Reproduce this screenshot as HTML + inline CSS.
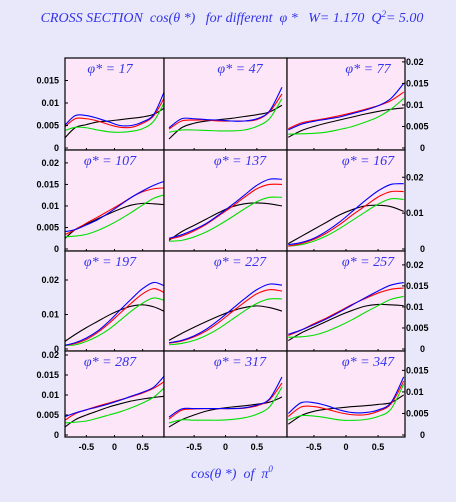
<!DOCTYPE html>
<html><head><meta charset="utf-8"><style>
body{margin:0;background:#e8e8fa;}
svg{display:block;font-family:"Liberation Sans",sans-serif;}
text{white-space:pre;}
</style></head><body>
<svg id="c" width="456" height="502">
<rect width="456" height="502" fill="#e8e8fa"/>
<text x="232" y="22" text-anchor="middle" fill="#3333ee" font-family="Liberation Serif,serif" font-style="italic" font-size="14" xml:space="preserve">CROSS SECTION  cos(θ *)   for different  φ *   W= 1.170  Q<tspan dy="-5" font-size="9">2</tspan><tspan dy="5">= 5.00</tspan></text>
<text x="232" y="478" text-anchor="middle" fill="#3333ee" font-family="Liberation Serif,serif" font-style="italic" font-size="14" xml:space="preserve">cos(θ *)  of  π<tspan dy="-6" font-size="9">0</tspan></text>
<g id="g"></g>
</svg>
<script>
const phis=[17,47,77,107,137,167,197,227,257,287,317,347];
const xs=[-0.9,-0.7,-0.5,-0.3,-0.1,0.1,0.3,0.5,0.7,0.9];
const black=[
[.002,.0045,.0052,.0058,.006,.0063,.0066,.0069,.0075,.009],
[.002,.0045,.0055,.006,.0063,.0066,.007,.0074,.008,.0095],
[.0025,.004,.005,.0058,.0065,.0072,.0079,.0085,.009,.0093],
[.0022,.0045,.0058,.007,.0082,.0093,.0102,.0106,.0105,.0103],
[.002,.004,.0055,.007,.0085,.0098,.0105,.0107,.0105,.01],
[.0015,.0035,.0055,.0075,.0095,.011,.012,.0122,.0118,.0105],
[.002,.0042,.0062,.008,.0098,.0113,.0124,.0128,.0122,.0108],
[.0025,.0045,.0063,.008,.0096,.011,.012,.0125,.012,.011],
[.002,.0038,.0052,.0066,.008,.0092,.0102,.0106,.0105,.0103],
[.0018,.0038,.005,.006,.007,.0078,.0085,.009,.0094,.0097],
[.002,.0038,.005,.006,.0066,.007,.0073,.0077,.0082,.0095],
[.0025,.0045,.0055,.006,.0063,.0066,.0068,.0071,.0075,.0093]];
const blue=[
[.0048,.0072,.0072,.0066,.0058,.005,.005,.0058,.0075,.013],
[.0045,.0065,.0065,.0063,.0062,.006,.006,.0065,.0082,.0135],
[.0042,.0055,.0062,.0067,.0072,.008,.0088,.0098,.0115,.015],
[.004,.0045,.0056,.0068,.0084,.0102,.012,.0135,.0148,.0158],
[.0025,.0033,.0045,.006,.008,.0102,.0125,.0148,.0162,.0162],
[.0012,.0018,.003,.005,.0075,.0105,.0135,.0162,.018,.0182],
[.001,.0018,.0032,.0052,.008,.0113,.0145,.0175,.0193,.0182],
[.0018,.0025,.0038,.0058,.0085,.0115,.0145,.0172,.0188,.0185],
[.0035,.0045,.0058,.0072,.0088,.0105,.0122,.0138,.0152,.0158],
[.0045,.0055,.0063,.007,.0078,.0087,.0097,.0107,.012,.015],
[.0045,.0065,.0066,.0066,.0066,.0066,.0068,.0075,.009,.0145],
[.005,.0075,.0075,.0068,.0058,.0052,.0052,.0058,.0075,.0135]];
const red=[
[.0045,.0065,.0065,.006,.0052,.0046,.0046,.0055,.0072,.0115],
[.0042,.006,.0062,.0062,.006,.006,.006,.0063,.008,.012],
[.0045,.0058,.0064,.0069,.0075,.0082,.009,.0098,.011,.013],
[.0032,.0045,.006,.0074,.0089,.0104,.012,.0133,.014,.0142],
[.0023,.003,.0042,.0058,.0078,.0098,.012,.014,.015,.015],
[.0008,.0015,.0027,.0045,.0068,.0095,.012,.0145,.016,.016],
[.001,.0016,.0028,.0048,.0074,.0104,.0133,.016,.0175,.0162],
[.0017,.0023,.0035,.0053,.0078,.0107,.0135,.016,.0172,.0168],
[.0032,.0045,.006,.0074,.009,.0106,.012,.0133,.0142,.0145],
[.0035,.0053,.0063,.0072,.008,.0088,.0096,.0105,.0117,.0135],
[.004,.0062,.0065,.0066,.0066,.0066,.0067,.0073,.0088,.013],
[.0043,.0065,.0066,.006,.0052,.0047,.0047,.0055,.0072,.0125]];
const green=[
[.0038,.0046,.0045,.004,.0036,.0035,.0037,.0043,.006,.0105],
[.0035,.004,.004,.0039,.0038,.0038,.004,.0048,.0065,.011],
[.0032,.0033,.0034,.0037,.0043,.005,.006,.0072,.009,.0115],
[.0028,.003,.0034,.0043,.0055,.0069,.0085,.0102,.0118,.0126],
[.0018,.002,.0028,.004,.0056,.0074,.0093,.011,.012,.012],
[.0008,.0012,.0022,.0037,.0057,.008,.0103,.0125,.014,.0138],
[.001,.0012,.0022,.0037,.0057,.0083,.011,.0133,.0148,.014],
[.0012,.0016,.0025,.004,.006,.0085,.011,.0132,.0145,.0145],
[.0028,.0029,.0033,.0042,.0055,.007,.0087,.0103,.0118,.0125],
[.003,.0032,.0035,.0042,.005,.0058,.0068,.008,.0095,.012],
[.003,.0038,.0037,.0037,.0037,.0039,.0043,.0052,.007,.012],
[.0035,.0045,.0044,.004,.0035,.0034,.0036,.0043,.006,.0118]];
const leftTicks=[[0,.005,.01,.015],[0,.005,.01,.015,.02],[0,.01,.02],[0,.005,.01,.015,.02]];
const rightTicks=[[0,.005,.01,.015,.02],[0,.01,.02],[0,.005,.01,.015,.02],[0,.005,.01,.015]];
const xTicks=[-0.5,0,0.5];
const ymaxL=[.020,.023,.0284,.021], ymaxR=[.0209,.0276,.0233,.0195];
const colX=[65,164,287,405], rowY=[58,150,251,351,437];
const xDom=[0.88,0.98,0.92], labCx=[110,240,368];
const NS="http://www.w3.org/2000/svg", G=document.getElementById('g');
function mk(t,a,p){const e=document.createElementNS(NS,t);for(const k in a)e.setAttribute(k,a[k]);(p||G).appendChild(e);return e;}
function path(pts){let d='M'+pts[0][0]+','+pts[0][1];for(let i=0;i<pts.length-1;i++){const p0=pts[Math.max(0,i-1)],p1=pts[i],p2=pts[i+1],p3=pts[Math.min(pts.length-1,i+2)];d+=' C'+(p1[0]+(p2[0]-p0[0])/6)+','+(p1[1]+(p2[1]-p0[1])/6)+' '+(p2[0]-(p3[0]-p1[0])/6)+','+(p2[1]-(p3[1]-p1[1])/6)+' '+p2[0]+','+p2[1];}return d;}
for(let i=0;i<12;i++){
 const r=Math.floor(i/3),c=i%3;
 const x0=colX[c],x1=colX[c+1],y0=rowY[r],y1=rowY[r+1];
 const ymax=c===2?ymaxR[r]:ymaxL[r];
 const zero=y1-2;
 const sx=v=>x0+(v+xDom[c])/(2*xDom[c])*(x1-x0);
 const sy=v=>zero-v/ymax*(zero-y0);
 const pg=mk('g',{});
 
 
 mk('rect',{x:x0,y:y0,width:x1-x0,height:y1-y0,fill:'#fde6f8'},pg);
 const cp='cp'+i;const cl=mk('clipPath',{id:cp},pg);mk('rect',{x:x0,y:y0,width:x1-x0,height:y1-y0},cl);
 [[black,'#000','black'],[green,'#00e000','green'],[red,'#f00','red'],[blue,'#00f','blue']].forEach(([arr,col,nm])=>{
  const p=mk('path',{d:path(xs.map((x,j)=>[sx(x),sy(arr[i][j])])),fill:'none',stroke:col,'stroke-width':1.1,'clip-path':'url(#'+cp+')'},pg);
  
  
 });
 xTicks.forEach(t=>{mk('line',{x1:sx(t),x2:sx(t),y1:y1,y2:y1-2,stroke:'#000'},pg);});
 mk('rect',{x:x0,y:y0,width:x1-x0,height:y1-y0,fill:'none',stroke:'#000','stroke-width':1.2},pg);
 const lt=mk('text',{x:labCx[c],y:y0+15,'text-anchor':'middle',fill:'#3333ee','font-family':'Liberation Serif,serif','font-style':'italic','font-size':14},pg);
 lt.textContent='φ* = '+phis[i];
 
 
 if(c===0){leftTicks[r].forEach(t=>{const y=sy(t);mk('line',{x1:x0,x2:x0+3,y1:y,y2:y,stroke:'#000'});const tx=mk('text',{x:59,y:y+3,'text-anchor':'end','font-size':9,'font-weight':'bold'});tx.textContent=String(t);});}
 if(c===2){rightTicks[r].forEach(t=>{const y=sy(t);mk('line',{x1:x1,x2:x1-3,y1:y,y2:y,stroke:'#000'});const tx=mk('text',{x:t===0?420:406,y:y+3,'font-size':9,'font-weight':'bold'});tx.textContent=String(t);});}
 if(r===3){xTicks.forEach(t=>{const tx=mk('text',{x:sx(t),y:450,'text-anchor':'middle','font-size':9,'font-weight':'bold'});tx.textContent=String(t);});}
}
</script>
</body></html>
